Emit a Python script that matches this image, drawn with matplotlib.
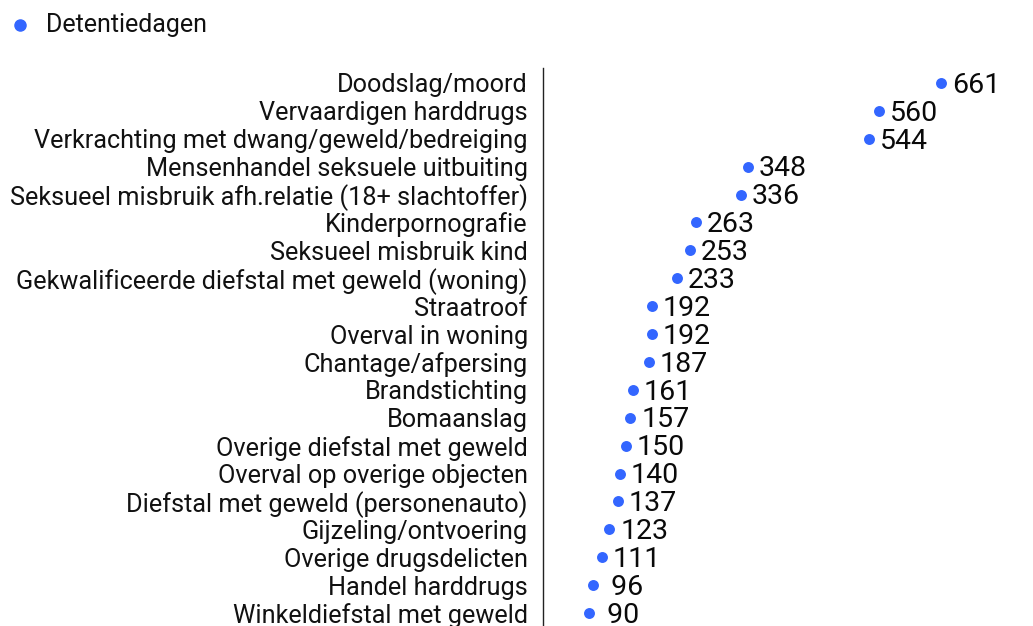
import numpy as np
import matplotlib
matplotlib.use('Agg')
from matplotlib import pyplot as plt

plt.rcParams['font.family'] = ['Roboto', 'DejaVu Sans']

# Data
categories = [
    'Doodslag/moord',
    'Vervaardigen harddrugs',
    'Verkrachting met dwang/geweld/bedreiging',
    'Mensenhandel seksuele uitbuiting',
    'Seksueel misbruik afh.relatie (18+ slachtoffer)',
    'Kinderpornografie',
    'Seksueel misbruik kind',
    'Gekwalificeerde diefstal met geweld (woning)',
    'Straatroof',
    'Overval in woning',
    'Chantage/afpersing',
    'Brandstichting',
    'Bomaanslag',
    'Overige diefstal met geweld',
    'Overval op overige objecten',
    'Diefstal met geweld (personenauto)',
    'Gijzeling/ontvoering',
    'Overige drugsdelicten',
    'Handel harddrugs',
    'Winkeldiefstal met geweld',
]
values = [661, 560, 544, 348, 336, 263, 253, 233, 192, 192,
          187, 161, 157, 150, 140, 137, 123, 111, 96, 90]
series_name = 'Detentiedagen'

dot_color = '#3366ff'

fig = plt.figure(figsize=(10.33, 6.26), dpi=100)
ax = fig.add_axes([0.5257, 0.0, 0.4743, 0.8914])

ypos = np.arange(len(categories))
ax.scatter(values, ypos, s=62, color=dot_color, zorder=3, linewidths=0)

# value labels, padded to three characters
for v, y in zip(values, ypos):
    ax.annotate(f'{v:>3d}', (v, y), xytext=(7.8, -7.0),
                textcoords='offset points', ha='left', va='baseline',
                fontsize=20.5, color='#0a0a0a')

ax.set_xlim(15.4, 810)
ax.set_ylim(len(categories) - 1 + 0.466, -0.538)
ax.set_yticks(ypos)
ax.set_yticklabels(categories, fontsize=18.2, color='#111111')
ax.tick_params(axis='y', length=0, pad=11)
ax.set_xticks([])
for side in ['top', 'right', 'bottom']:
    ax.spines[side].set_visible(False)
ax.spines['left'].set_linewidth(1.0)
ax.spines['left'].set_color('#222222')

# legend at top left
fig.text(46 / 1033, 1 - 25 / 626, series_name, fontsize=18,
         va='center', ha='left', color='#111111')
fig.add_artist(plt.Line2D([20 / 1033], [1 - 25 / 626], marker='o',
                          markersize=8, color=dot_color, linestyle='None',
                          transform=fig.transFigure))

fig.savefig('out.png', dpi=100)
